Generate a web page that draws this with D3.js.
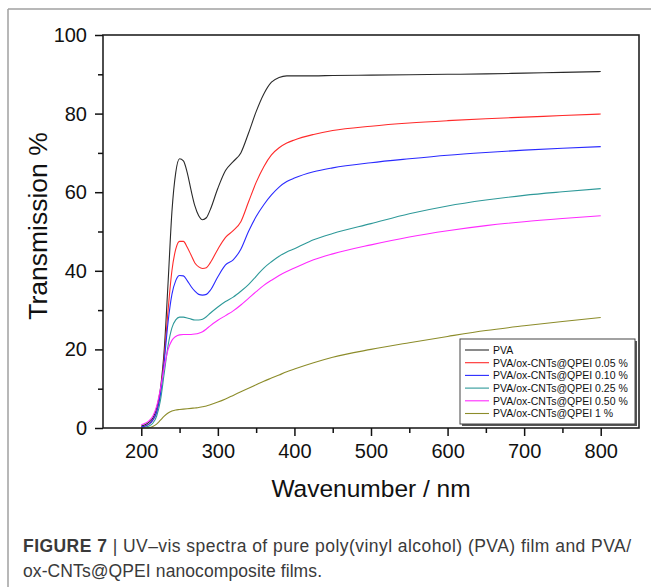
<!DOCTYPE html>
<html><head><meta charset="utf-8">
<script src="https://cdn.jsdelivr.net/npm/d3@7"></script>
<style>body{margin:0;background:#fff}svg{display:block}text{font-family:"Liberation Sans",Arial,sans-serif}</style>
</head><body>
<svg id="chart" width="651" height="587"></svg>
<script>
const wavelengths = [200,205,210,215,220,225,230,235,240,245,250,255,260,265,270,275,280,285,290,300,310,320,330,340,350,360,370,380,390,400,425,450,500,550,600,650,700,750,800];
const pva     = [0.5,0.8,1.5,2.5,5,10,20,37,55,65,68.5,68,65,60.5,56.5,54,53,53.5,55.5,61,65.5,67.8,70,75,80.5,85,88,89.2,89.6,89.6,89.6,89.7,89.8,89.9,90.0,90.1,90.3,90.5,90.7];
const pva005  = [0.3,0.5,1,2,4,9,18,30,40,45.5,47.5,47.5,46,44,42,41,40.6,40.8,42,45.5,48.5,50.2,52.5,57.5,62.5,66.5,69.5,71.3,72.5,73.3,74.7,75.7,76.8,77.6,78.2,78.7,79.1,79.5,79.9];
const pva010  = [0.3,0.5,1,2,4,8.5,17,27,34,37.5,38.8,38.7,37.5,36,34.8,34,33.8,34,35,38.5,41.5,42.8,45.5,50,53.8,56.8,59.3,61.3,62.7,63.6,65.2,66.2,67.5,68.5,69.4,70.1,70.7,71.2,71.6];
const pva025  = [0.1,0.2,0.5,1.2,3,7,14,21,25.5,27.5,28.2,28.2,28,27.7,27.5,27.5,27.7,28.3,29.2,30.8,32.2,33.3,34.8,36.5,38.6,40.7,42.3,43.7,44.8,45.6,47.9,49.5,52.0,54.5,56.5,58.0,59.2,60.1,60.9];
const pva050  = [0.8,1.2,1.8,3,5.5,10,15.5,20,22.3,23.3,23.7,23.8,23.8,23.8,23.9,24.1,24.5,25.2,26,27.4,28.6,29.8,31.3,33,34.7,36.3,37.6,38.8,39.8,40.7,42.8,44.3,46.6,48.6,50.2,51.5,52.5,53.3,54.0];
const pva1    = [0,0,0.1,0.4,1,2,3,3.8,4.3,4.6,4.7,4.8,4.9,5,5.1,5.2,5.4,5.6,5.9,6.6,7.4,8.3,9.2,10.1,11.0,11.9,12.7,13.5,14.3,15.0,16.6,18.0,20.0,21.7,23.3,24.8,26.0,27.1,28.1];
const seriesNames = ["PVA","PVA/ox-CNTs@QPEI 0.05 %","PVA/ox-CNTs@QPEI 0.10 %","PVA/ox-CNTs@QPEI 0.25 %","PVA/ox-CNTs@QPEI 0.50 %","PVA/ox-CNTs@QPEI 1 %"];
const seriesColors = ["#2a2a2a","#ff2a2a","#2a2aff","#2e9999","#ff2aff","#8c8c2a"];
const xTicks = [200,300,400,500,600,700,800];
const xMinorTicks = [250,350,450,550,650,750];
const yTicks = [0,20,40,60,80,100];
const yMinorTicks = [10,30,50,70,90];
const xTitle = "Wavenumber / nm";
const yTitle = "Transmission %";
const captionBold = "FIGURE 7";
const captionLine1 = " | UV\u2013vis spectra of pure poly(vinyl alcohol) (PVA) film and PVA/";
const captionLine2 = "ox-CNTs@QPEI nanocomposite films.";

const seriesValues = [pva,pva005,pva010,pva025,pva050,pva1];
const svg = d3.select("#chart");
const L=103, R=639, T=35, B=428;
const x = d3.scaleLinear().domain([150,850]).range([L,R]);
const y = d3.scaleLinear().domain([0,100]).range([B,T]);

// figure border
svg.append("line").attr("x1",8).attr("x2",8).attr("y1",9).attr("y2",587).attr("stroke","#a0a0a0").attr("stroke-width",1.5);
svg.append("line").attr("x1",8).attr("x2",651).attr("y1",9).attr("y2",9).attr("stroke","#a0a0a0").attr("stroke-width",1.5);

// lines
const line = d3.line().x(d=>x(d[0])).y(d=>y(d[1])).curve(d3.curveMonotoneX);
seriesValues.forEach((vals,i)=>{
  svg.append("path").datum(wavelengths.map((w,j)=>[w,vals[j]]))
    .attr("fill","none").attr("stroke",seriesColors[i]).attr("stroke-width",1.1).attr("d",line);
});

// frame
svg.append("rect").attr("x",L).attr("y",T).attr("width",R-L).attr("height",B-T)
  .attr("fill","none").attr("stroke","#222").attr("stroke-width",1.6);

// axes
const xAxis = svg.append("g").attr("transform",`translate(0,${B})`)
  .call(d3.axisBottom(x).tickValues(xTicks).tickSize(8).tickPadding(8));
const xMinor = svg.append("g").attr("transform",`translate(0,${B})`)
  .call(d3.axisBottom(x).tickValues(xMinorTicks).tickSize(5).tickFormat(""));
const yAxis = svg.append("g").attr("transform",`translate(${L},0)`)
  .call(d3.axisLeft(y).tickValues(yTicks).tickSize(8).tickPadding(8));
const yMinor = svg.append("g").attr("transform",`translate(${L},0)`)
  .call(d3.axisLeft(y).tickValues(yMinorTicks).tickSize(5).tickFormat(""));
[xAxis,xMinor,yAxis,yMinor].forEach(g=>{
  g.select(".domain").remove();
  g.selectAll(".tick line").attr("stroke","#111").attr("stroke-width",1.5);
  g.selectAll(".tick text").attr("font-size",20).attr("fill","#111").attr("font-family","Liberation Sans, Arial, sans-serif");
});

// titles
svg.append("text").attr("x",(L+R)/2).attr("y",497).attr("text-anchor","middle")
  .attr("font-size",24.5).attr("fill","#111").text(xTitle);
svg.append("text").attr("transform",`translate(47,226) rotate(-90)`).attr("text-anchor","middle")
  .attr("font-size",26.5).attr("fill","#111").text(yTitle);

// legend
const lg = svg.append("g");
lg.append("rect").attr("x",462).attr("y",341).attr("width",175).attr("height",85).attr("fill","#555");
lg.append("rect").attr("x",460).attr("y",339).attr("width",175).attr("height",85).attr("fill","#fff").attr("stroke","#444").attr("stroke-width",1);
seriesNames.forEach((n,i)=>{
  const yy = 350 + i*12.7;
  lg.append("line").attr("x1",465).attr("x2",489).attr("y1",yy).attr("y2",yy).attr("stroke",seriesColors[i]).attr("stroke-width",1.1);
  lg.append("text").attr("x",493).attr("y",yy+3.8).attr("font-size",10.5).attr("fill","#111").text(n);
});

// caption
const cap = svg.append("text").attr("x",23).attr("y",552).attr("font-size",17.5).attr("fill","#3a3a3a")
  .attr("textLength",608).attr("lengthAdjust","spacing");
cap.append("tspan").attr("font-weight","bold").text(captionBold);
cap.append("tspan").text(captionLine1);
svg.append("text").attr("x",23).attr("y",577).attr("font-size",17.5).attr("fill","#3a3a3a")
  .attr("textLength",299).attr("lengthAdjust","spacing").text(captionLine2);
</script>
</body></html>
